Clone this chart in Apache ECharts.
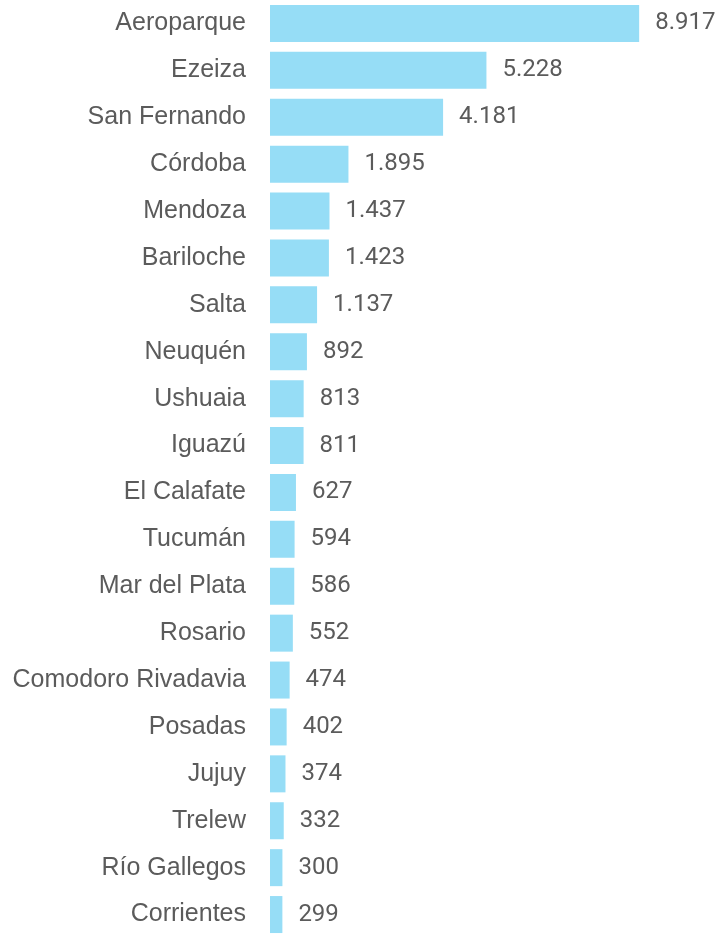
<!DOCTYPE html>
<html>
<head>
<meta charset="utf-8">
<script src="https://cdn.jsdelivr.net/npm/echarts@6/dist/echarts.min.js"></script>
<style>html,body{margin:0;padding:0;background:#fff}#c{width:722px;height:938px}</style>
</head>
<body>
<div id="c"></div>
<script>
const categories = ["Aeroparque","Ezeiza","San Fernando","Córdoba","Mendoza","Bariloche","Salta","Neuquén","Ushuaia","Iguazú","El Calafate","Tucumán","Mar del Plata","Rosario","Comodoro Rivadavia","Posadas","Jujuy","Trelew","Río Gallegos","Corrientes"];
const values = [8917,5228,4181,1895,1437,1423,1137,892,813,811,627,594,586,552,474,402,374,332,300,299];

function fmt(v){ return String(v).replace(/\B(?=(\d{3})+(?!\d))/g, "."); }

const chart = echarts.init(document.getElementById('c'), null, {renderer:'canvas'});
chart.setOption({
  animation:false,
  grid:{left:270, top:-2, width:414, height:946.6},
  xAxis:{type:'value', min:0, max:10000, show:false},
  yAxis:{type:'category', inverse:true, data:categories,
    axisLine:{show:false}, axisTick:{show:false}, splitLine:{show:false},
    axisLabel:{color:'#5b5b5b', fontFamily:'Liberation Sans', fontSize:25, margin:24}},
  series:[{type:'bar', data:values, barWidth:37,
    itemStyle:{color:'#96DDF6'},
    label:{show:true, position:'right', distance:16, color:'#5b5b5b', fontFamily:'Roboto', fontSize:24,
      formatter:p=>fmt(p.value)}}]
});
</script>
</body>
</html>
